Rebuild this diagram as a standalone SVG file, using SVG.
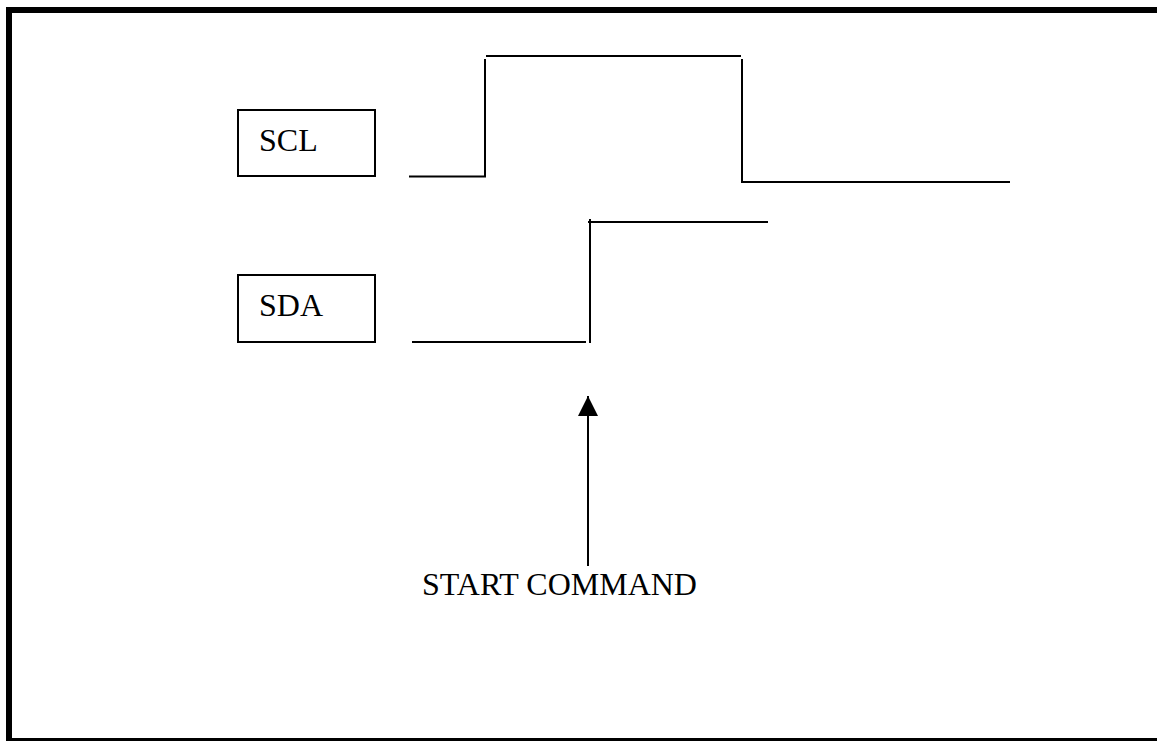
<svg xmlns="http://www.w3.org/2000/svg" width="1157" height="741" viewBox="0 0 1157 741">
<style>
.lbl{font-family:"Liberation Serif","Times New Roman",serif;font-size:32px;fill:#000}
.box{fill:#fff;stroke:#000;stroke-width:2}
.w{fill:none;stroke:#000;stroke-width:2}
</style>
<defs>
<marker id="ah" markerWidth="20" markerHeight="20" refX="20" refY="10" orient="auto" markerUnits="userSpaceOnUse" viewBox="0 0 20 20">
<path d="M0,0 L20,10 L0,20 Z" fill="#000"/>
</marker>
</defs>
<rect width="1157" height="741" fill="#fff"/>
<g id="frame">
<path d="M6,10 H1157" stroke="#000" stroke-width="6"/>
<path d="M9,7 V741" stroke="#000" stroke-width="6"/>
<path d="M6,739.5 H1157" stroke="#000" stroke-width="3"/>
</g>
<g id="scl-label">
<rect class="box" x="238" y="110" width="137" height="66"/>
<text class="lbl" x="259" y="151">SCL</text>
</g>
<g id="sda-label">
<rect class="box" x="238" y="275" width="137" height="67"/>
<text class="lbl" x="259" y="316">SDA</text>
</g>
<g id="start-label">
<text class="lbl" x="422" y="595">START COMMAND</text>
</g>
<g id="connectors">
<path class="w" d="M409,176.5 H485 V59"/>
<path class="w" d="M486,56 H741"/>
<path class="w" d="M742,59 V182 H1010"/>
<path class="w" d="M412,342 H586"/>
<path class="w" d="M590,343 V219 M588,222 H768"/>
<path class="w" d="M588,566 V396" marker-end="url(#ah)"/>
</g>
</svg>
